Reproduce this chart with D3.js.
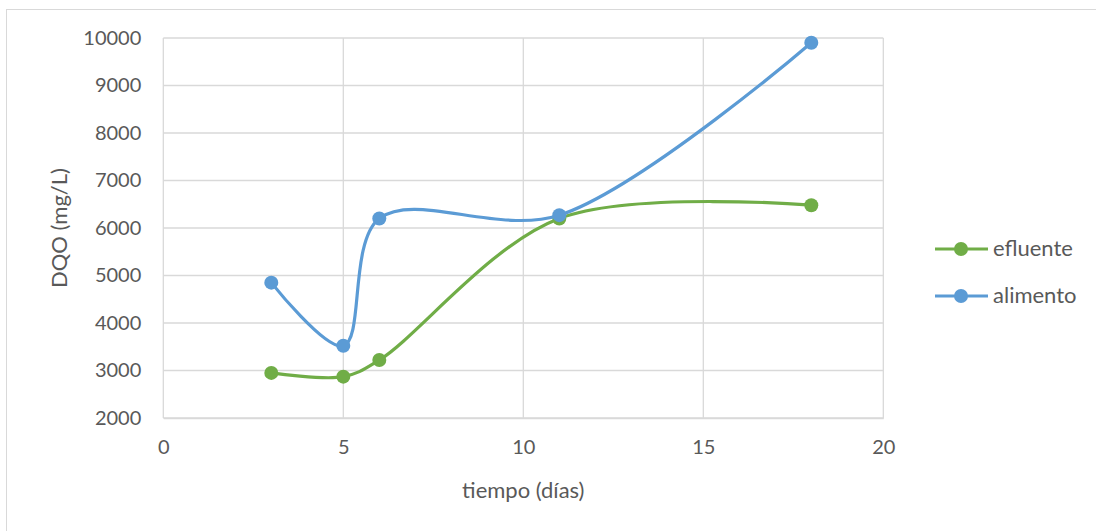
<!DOCTYPE html>
<html>
<head>
<meta charset="utf-8">
<script src="https://cdn.jsdelivr.net/npm/d3@7"></script>
<style>
  html, body { margin: 0; padding: 0; background: #fff; }
  svg { display: block; font-family: Lato, "Open Sans", sans-serif; }
</style>
</head>
<body>
<svg id="chart" width="1096" height="531"></svg>
<script>
// DQO measurements over time
const dias = [3, 5, 6, 11, 18];
const efluente = [2950, 2870, 3220, 6200, 6480];
const alimento = [4850, 3520, 6200, 6270, 9900];
const xTicks = [0, 5, 10, 15, 20];
const yTicks = [2000, 3000, 4000, 5000, 6000, 7000, 8000, 9000, 10000];

const series = [
  { name: "efluente", values: efluente, color: "#70ad47" },
  { name: "alimento", values: alimento, color: "#5b9bd5" }
];

const svg = d3.select("#chart");
const W = 1096, H = 531;

// outer chart frame
svg.append("rect")
  .attr("x", 6.5).attr("y", 9.5)
  .attr("width", W + 10).attr("height", H + 10)
  .attr("fill", "#fff").attr("stroke", "#d9d9d9");

const plot = { left: 163.3, right: 883.3, top: 38, bottom: 418 };

const x = d3.scaleLinear().domain([0, 20]).range([plot.left, plot.right]);
const y = d3.scaleLinear().domain([2000, 10000]).range([plot.bottom, plot.top]);

const g = svg.append("g");

// gridlines
g.append("g").selectAll("line").data(yTicks).join("line")
  .attr("x1", plot.left).attr("x2", plot.right)
  .attr("y1", d => y(d)).attr("y2", d => y(d))
  .attr("stroke", "#d9d9d9").attr("stroke-width", 1.3);
g.append("g").selectAll("line").data(xTicks).join("line")
  .attr("x1", d => x(d)).attr("x2", d => x(d))
  .attr("y1", plot.top).attr("y2", plot.bottom)
  .attr("stroke", "#d9d9d9").attr("stroke-width", 1.3);

// axes
const xAxis = d3.axisBottom(x).tickValues(xTicks).tickFormat(d3.format("d"))
  .tickSize(0).tickPadding(22);
const yAxis = d3.axisLeft(y).tickValues(yTicks).tickFormat(d3.format("d"))
  .tickSize(0).tickPadding(22);

const gx = g.append("g").attr("transform", `translate(0,${plot.bottom})`).call(xAxis);
const gy = g.append("g").attr("transform", `translate(${plot.left},0)`).call(yAxis);
[gx, gy].forEach(a => {
  a.select(".domain").attr("stroke", "#d9d9d9").attr("stroke-width", 1.3);
  a.selectAll("text").attr("fill", "#595959").style("font-size", "20px")
    .style("font-family", "Lato, 'Open Sans', sans-serif");
});
gy.select(".domain").attr("stroke", "none");

// axis titles
svg.append("text")
  .attr("x", (plot.left + plot.right) / 2).attr("y", 498)
  .attr("text-anchor", "middle").attr("fill", "#595959")
  .style("font-size", "22px").text("tiempo (días)");
svg.append("text")
  .attr("transform", `translate(67,${(plot.top + plot.bottom) / 2}) rotate(-90)`)
  .attr("text-anchor", "middle").attr("fill", "#595959")
  .style("font-size", "22px").text("DQO (mg/L)");

// smoothed series lines with markers
const line = d3.line()
  .x(d => x(d[0])).y(d => y(d[1]))
  .curve(d3.curveCatmullRom.alpha(0.5));

series.forEach(s => {
  const pts = dias.map((d, i) => [d, s.values[i]]);
  g.append("path").datum(pts)
    .attr("d", line).attr("fill", "none")
    .attr("stroke", s.color).attr("stroke-width", 3.2)
    .attr("stroke-linecap", "round");
  g.append("g").selectAll("circle").data(pts).join("circle")
    .attr("cx", d => x(d[0])).attr("cy", d => y(d[1]))
    .attr("r", 7).attr("fill", s.color);
});

// legend
const legend = svg.append("g");
series.forEach((s, i) => {
  const ly = 249 + i * 47;
  legend.append("line")
    .attr("x1", 935).attr("x2", 988).attr("y1", ly).attr("y2", ly)
    .attr("stroke", s.color).attr("stroke-width", 3.2);
  legend.append("circle").attr("cx", 961).attr("cy", ly).attr("r", 7).attr("fill", s.color);
  legend.append("text").attr("x", 993).attr("y", ly + 7)
    .attr("fill", "#595959").style("font-size", "22px").text(s.name);
});
</script>
</body>
</html>
